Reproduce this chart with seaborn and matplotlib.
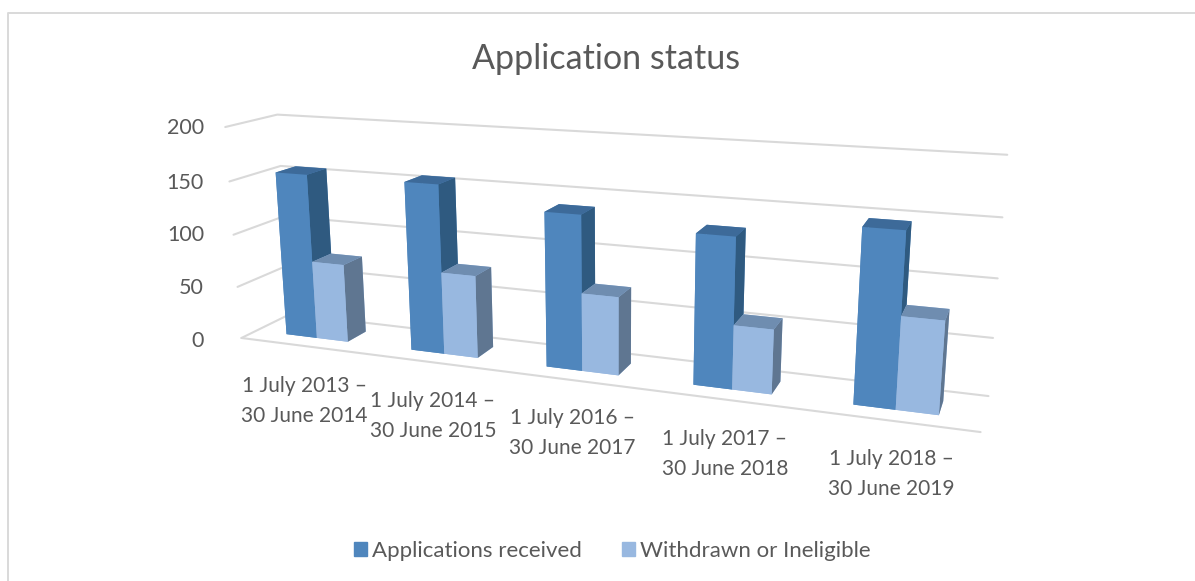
import numpy as np
import seaborn as sns
import matplotlib
matplotlib.use("Agg")
import matplotlib.pyplot as plt
from matplotlib.lines import Line2D
from matplotlib.patches import Patch

W, H = 1195, 581

categories = ["1 July 2013 –\n30 June 2014", "1 July 2014 –\n30 June 2015", "1 July 2016 –\n30 June 2017",
              "1 July 2017 –\n30 June 2018", "1 July 2018 –\n30 June 2019"]
received = [156, 156, 139, 131, 147]
withdrawn = [74, 76, 70, 56, 78]
yticks = [0, 50, 100, 150, 200]

# front, top, side colours of the bars
blue = ['#4f86bd', '#3d6a99', '#2f5a80']
light = ['#98b8e0', '#6f8db0', '#5f7691']
grid = '#d9d9d9'
text_col = '#595959'

sns.set_theme(style="white")
plt.rcParams['font.family'] = ['Lato', 'DejaVu Sans']

def px(x, y):
    return x / W, 1 - y / H

fig = plt.figure(figsize=(W / 100, H / 100), dpi=100)
ax = fig.add_axes([0, 0, 1, 1], projection='3d')
ax.set_xlim(0, 5)
ax.set_ylim(0, 1)
ax.set_zlim(0, 200)
ax.view_init(elev=14.537, azim=-69.073, roll=0.306)
ax.set_proj_type('persp', focal_length=0.299)
ax.set_box_aspect((1, 0.122, 0.299))
ax.set_axis_off()
ax.computed_zorder = False

# place the square 3d axes so the box lands where the chart has it
s, cx, cy = 4286.8, 588.3, 326.0
x0, x1 = ax.viewLim.intervalx
y0, y1 = ax.viewLim.intervaly
ax.set_position([(cx + s * x0) / W, (cy + s * y0) / H, s * (x1 - x0) / W, s * (y1 - y0) / H])

for z in yticks:
    ax.plot([0, 0, 5], [0, 1, 1], [z, z, z], color=grid, lw=1.5, zorder=1, clip_on=False)
ax.plot([0, 5], [0, 0], [0, 0], color=grid, lw=1.5, zorder=1, clip_on=False)

pos = np.arange(len(categories))
gap, bw = 0.25, 0.25
for k, (vals, c) in enumerate(((received, blue), (withdrawn, light))):
    # bar3d faces: bottom, top, front, back, left, right
    faces = [c[0], c[1], c[0], c[0], c[0], c[2]]
    bars = ax.bar3d(pos + gap + bw * k, [0.3] * 5, [0] * 5, bw, 0.4, vals, color=faces * 5, shade=False,
                    zorder=3 + k, edgecolor='none', linewidth=0)
    bars.set_clip_on(False)

x, y = px(606, 59)
fig.text(x, y, "Application status", fontsize=24.5, color=text_col, ha='center', va='center')

for t, yy in zip(yticks, [341, 288, 235, 183, 128]):
    x, y = px(204, yy)
    fig.text(x, y, str(t), fontsize=15.5, color=text_col, ha='right', va='center')

for lab, xx, yy in zip(categories, [304, 433, 572, 725, 891], [401, 416, 433, 454, 474]):
    x, y = px(xx, yy)
    fig.text(x, y, lab, fontsize=15, color=text_col, ha='center', va='center', linespacing=1.58)

handles = [Patch(color=blue[0]), Patch(color=light[0])]
fig.legend(handles, ["Applications received", "Withdrawn or Ineligible"], ncols=2, loc='center',
           bbox_to_anchor=px(612, 551), frameon=False, fontsize=16, labelcolor=text_col,
           handlelength=0.62, handleheight=0.62, handletextpad=0.2, columnspacing=1.8)

fig.add_artist(Line2D([8 / W, 8 / W, 1], [0, 1 - 12.5 / H, 1 - 12.5 / H], color='#d9d9d9', lw=1.4))

fig.savefig("out.png", dpi=100)
